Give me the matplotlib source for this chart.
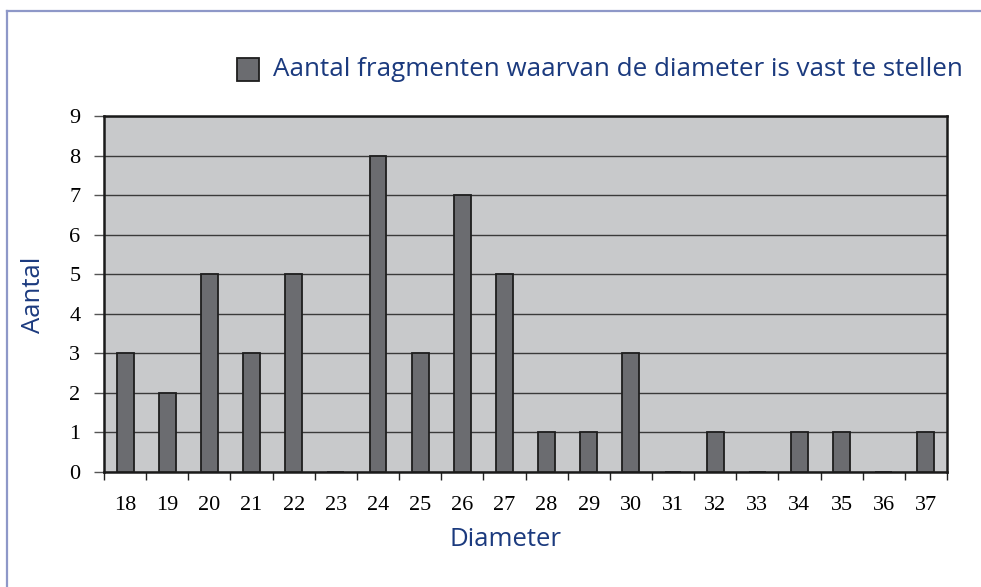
import matplotlib
matplotlib.use("Agg")
import matplotlib.pyplot as plt
from matplotlib.lines import Line2D
from matplotlib.patches import Rectangle

# Counts of fragments per measurable diameter
diameters = [18, 19, 20, 21, 22, 23, 24, 25, 26, 27, 28, 29, 30, 31, 32, 33, 34, 35, 36, 37]
counts = [3, 2, 5, 3, 5, 0, 8, 3, 7, 5, 1, 1, 3, 0, 1, 0, 1, 1, 0, 1]
y_ticks = list(range(0, 10))
series_label = "Aantal fragmenten waarvan de diameter is vast te stellen"

W, H = 981, 587
fig = plt.figure(figsize=(W / 100, H / 100), dpi=100)
fig.patch.set_facecolor("white")

navy = "#1b3a7e"
border = "#8e98c8"
sans = ["Open Sans", "DejaVu Sans"]
serif = ["Liberation Serif", "DejaVu Serif"]

# Frame lines along top and left edge
fig.add_artist(Line2D([7 / W, 1.0], [1 - 11 / H, 1 - 11 / H], color=border, lw=1.6))
fig.add_artist(Line2D([7 / W, 7 / W], [0, 1 - 11 / H], color=border, lw=1.6))

left, right, top, bottom = 104, 947, 116, 472
ax = fig.add_axes([left / W, 1 - bottom / H, (right - left) / W, (bottom - top) / H])
ax.set_facecolor("#c8c9cb")

x = list(range(len(diameters)))
ax.bar(x, counts, width=0.4, color="#6b6c70", edgecolor="#1e1e1e", linewidth=1.3, zorder=3)

ax.set_xlim(-0.5, len(diameters) - 0.5)
ax.set_ylim(0, 9)
ax.set_yticks(y_ticks)
ax.set_yticklabels([str(v) for v in y_ticks], fontfamily=serif, fontsize=16)
ax.yaxis.grid(True, color="#3a3a3a", linewidth=1.0, zorder=0)
ax.set_axisbelow(True)

# Category labels centred, tick marks at the boundaries
ax.set_xticks(x)
ax.set_xticklabels([str(d) for d in diameters], fontfamily=serif, fontsize=16)
ax.tick_params(axis="x", which="major", length=0, pad=17)
ax.set_xticks([i - 0.5 for i in range(len(diameters) + 1)], minor=True)
ax.tick_params(axis="x", which="minor", length=6, width=1.0, color="#222222", direction="out")
ax.tick_params(axis="y", length=7, width=1.0, color="#555555", pad=10)

for s in ax.spines.values():
    s.set_color("#1a1a1a")
    s.set_linewidth(1.8)

# Axis titles
fig.text(506 / W, 1 - 539 / H, "Diameter", fontfamily=sans, fontsize=18.5, color=navy,
         ha="center", va="center")
fig.text(33 / W, 1 - 295 / H, "Aantal", fontfamily=sans, fontsize=18.5, color=navy,
         ha="center", va="center", rotation=90)

# Legend entry drawn above the plot
fig.add_artist(Rectangle((237 / W, 1 - 81 / H), 22 / W, 23 / H, facecolor="#6b6c70",
                         edgecolor="#1e1e1e", linewidth=1.3))
fig.text(273 / W, 1 - 69 / H, series_label, fontfamily=sans, fontsize=18.7, color=navy,
         va="center", ha="left")

fig.savefig("out.png", dpi=100)
